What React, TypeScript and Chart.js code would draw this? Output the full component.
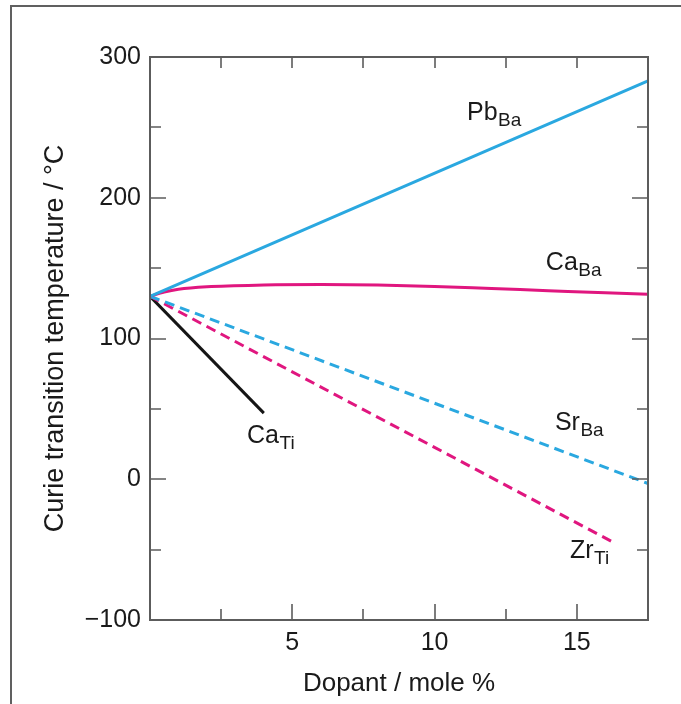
import React, { useEffect, useRef } from "react";
import { Chart, registerables } from "chart.js";

Chart.register(...registerables);

// ---- data ----
const pbBaX = [0, 17.5];
const pbBaY = [130, 283];

const caBaX = [0, 0.5, 1, 2, 4, 6, 8, 10, 12, 14, 16, 17.5];
const caBaY = [130, 133, 135, 136.8, 138, 138.3, 138, 137, 135.5, 134, 132.5, 131.5];

const srBaX = [0, 17.5];
const srBaY = [130, -3];

const zrTiX = [0, 16.3];
const zrTiY = [130, -45];

const caTiX = [0, 4];
const caTiY = [130, 47];

// annotation labels: main text, subscript, anchor x (mol %), anchor y (°C)
const labelMain = ["Pb", "Ca", "Sr", "Zr", "Ca"];
const labelSub = ["Ba", "Ba", "Ba", "Ti", "Ti"];
const labelX = [11.14, 13.91, 14.23, 14.76, 3.41];
const labelY = [255, 149, 35, -56, 26];

const xMin = 0;
const xMax = 17.5;
const xStep = 2.5;
const yMin = -100;
const yMax = 300;
const yStep = 50;

const xTitle = "Dopant / mole %";
const yTitle = "Curie transition temperature / °C";

const BLUE = "#2aa8e0";
const MAGENTA = "#e0167f";
const BLACK = "#151515";
const AXIS = "#5c5c5c";
const TEXT = "#1a1a1a";
const FONT = "'Liberation Sans', Arial, Helvetica, sans-serif";

const pts = (xs: number[], ys: number[]) => xs.map((x, i) => ({ x, y: ys[i] }));

const decorPlugin = {
  id: "decor",
  beforeDraw(chart: any) {
    const { ctx } = chart;
    ctx.save();
    ctx.strokeStyle = "#606060";
    ctx.lineWidth = 2;
    ctx.beginPath();
    ctx.moveTo(11, chart.height + 2);
    ctx.lineTo(11, 6);
    ctx.lineTo(chart.width + 2, 6);
    ctx.stroke();
    ctx.restore();
  },
  afterDatasetsDraw(chart: any) {
    const { ctx, chartArea: a, scales } = chart;
    const xs = scales.x;
    const ys = scales.y;
    ctx.save();
    ctx.strokeStyle = AXIS;
    ctx.lineWidth = 2;
    ctx.strokeRect(a.left, a.top, a.right - a.left, a.bottom - a.top);
    ctx.lineWidth = 1.6;
    ctx.beginPath();
    xs.ticks.forEach((t: any) => {
      const v = t.value;
      if (v <= xMin || v >= xMax) return;
      const px = Math.round(xs.getPixelForValue(v));
      const major = Math.abs(v % 5) < 1e-6;
      const lb = major ? 16 : 11;
      ctx.moveTo(px, a.bottom);
      ctx.lineTo(px, a.bottom - lb);
      ctx.moveTo(px, a.top);
      ctx.lineTo(px, a.top + 11);
    });
    ys.ticks.forEach((t: any) => {
      const v = t.value;
      if (v <= yMin || v >= yMax) return;
      const py = Math.round(ys.getPixelForValue(v));
      const major = Math.abs(v % 100) < 1e-6;
      const l = major ? 16 : 11;
      ctx.moveTo(a.left, py);
      ctx.lineTo(a.left + l, py);
      ctx.moveTo(a.right, py);
      ctx.lineTo(a.right - l, py);
    });
    ctx.stroke();

    // labels
    ctx.fillStyle = TEXT;
    ctx.textBaseline = "alphabetic";
    ctx.textAlign = "left";
    labelMain.forEach((m, i) => {
      const px = xs.getPixelForValue(labelX[i]);
      const py = ys.getPixelForValue(labelY[i]);
      ctx.font = `25px ${FONT}`;
      ctx.fillText(m, px, py);
      const w = ctx.measureText(m).width;
      ctx.font = `19px ${FONT}`;
      ctx.fillText(labelSub[i], px + w + 0.5, py + 6);
    });
    ctx.restore();
  },
};

export default function App() {
  const ref = useRef<HTMLCanvasElement | null>(null);
  useEffect(() => {
    if (!ref.current) return;
    const chart = new Chart(ref.current, {
      type: "line",
      data: {
        datasets: [
          { label: "PbBa", data: pts(pbBaX, pbBaY), borderColor: BLUE, borderWidth: 3 },
          {
            label: "CaBa",
            data: pts(caBaX, caBaY),
            borderColor: MAGENTA,
            borderWidth: 3,
            cubicInterpolationMode: "monotone",
          },
          { label: "SrBa", data: pts(srBaX, srBaY), borderColor: BLUE, borderWidth: 3, borderDash: [10, 6] },
          { label: "ZrTi", data: pts(zrTiX, zrTiY), borderColor: MAGENTA, borderWidth: 3, borderDash: [10, 6] },
          { label: "CaTi", data: pts(caTiX, caTiY), borderColor: BLACK, borderWidth: 3 },
        ] as any,
      },
      options: {
        responsive: false,
        animation: false,
        events: [],
        elements: { point: { radius: 0 }, line: { fill: false, borderCapStyle: "butt" } },
        layout: { padding: { left: 0, top: 57, right: 33, bottom: 0 } },
        plugins: { legend: { display: false }, tooltip: { enabled: false } },
        scales: {
          x: {
            type: "linear",
            min: xMin,
            max: xMax,
            grid: { display: false, drawTicks: false },
            border: { display: false },
            afterFit: (s: any) => {
              s.height = 84;
            },
            ticks: {
              stepSize: xStep,
              autoSkip: false,
              maxRotation: 0,
              padding: 8,
              color: TEXT,
              font: { family: FONT, size: 25 },
              callback: (v: any) => {
                const n = Number(v);
                return n > 0 && Math.abs(n % 5) < 1e-6 ? String(n) : "";
              },
            },
            title: {
              display: true,
              text: xTitle,
              color: TEXT,
              font: { family: FONT, size: 26 },
              padding: { top: 0, bottom: 5 },
            },
          },
          y: {
            type: "linear",
            min: yMin,
            max: yMax,
            grid: { display: false, drawTicks: false },
            border: { display: false },
            afterFit: (s: any) => {
              s.width = 150;
            },
            ticks: {
              stepSize: yStep,
              autoSkip: false,
              padding: 9,
              color: TEXT,
              font: { family: FONT, size: 25 },
              callback: (v: any) => {
                const n = Number(v);
                if (Math.abs(n % 100) > 1e-6) return "";
                return n < 0 ? "\u2212" + Math.abs(n) : String(n);
              },
            },
            title: {
              display: true,
              text: yTitle,
              color: TEXT,
              font: { family: FONT, size: 27 },
              padding: { top: 39, bottom: 0 },
            },
          },
        },
      },
      plugins: [decorPlugin],
    });
    return () => chart.destroy();
  }, []);

  return (
    <div style={{ position: "absolute", left: 0, top: 0, width: 681, height: 704, background: "#fff" }}>
      <canvas ref={ref} width={681} height={704} style={{ display: "block" }} />
    </div>
  );
}
